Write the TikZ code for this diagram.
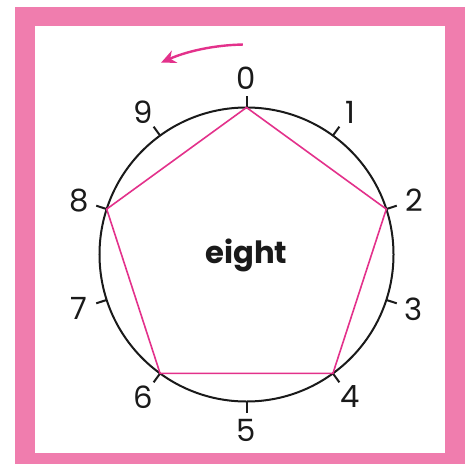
\documentclass[tikz,border=0pt]{standalone}
\usepackage{fontspec}
\setmainfont{Poppins}
\usepackage{xcolor}
\usetikzlibrary{
  arrows.meta,
  positioning,
  calc
}
\definecolor{clkFrame}{HTML}{F07DAE}
\definecolor{clkPink}{HTML}{E3318B}
\definecolor{clkInk}{HTML}{1A1A1A}
\tikzset{
  frame/.style={fill=clkFrame, draw=none},
  paper/.style={fill=white, draw=none},
  dial/.style={draw=clkInk, line width=1.5pt},
  ticker/.style={draw=clkInk, line width=1.5pt},
  digit/.style={font=\fontsize{23}{25}\selectfont, text=clkInk, inner sep=0pt},
  word/.style={font=\fontsize{23}{26}\selectfont\bfseries, text=clkInk, inner sep=0pt},
  polygon/.style={draw=clkPink, line width=1.2pt, line join=miter},
  turn/.style={-{Stealth[length=11pt, width=10pt]}, draw=clkPink, line width=1.8pt}
}
\begin{document}
\begin{tikzpicture}[x=0.75pt, y=0.75pt]
  \useasboundingbox (-246.5,-209.5) rectangle (226.5,254.5);
  % frame
  \path[frame] (-231.5,-209.5) rectangle (218.5,247.5);
  \path[paper] (-211.5,-198.5) rectangle (198.5,228.5);
  % dial
  \coordinate (c) at (0,0);
  \draw[dial] (c) circle[radius=147];
  \foreach \i in {0,...,9} {
    \coordinate (v\i) at ({90-36*\i}:147);
    \draw[ticker] (v\i) -- ({90-36*\i}:158);
    \node[digit] (n\i) at ({90-36*\i}:176) {\i};
  }
  % counting by eight
  \draw[polygon] (v0) -- (v8) -- (v6) -- (v4) -- (v2) -- cycle;
  \node[word] (lbl) at (0,-1) {eight};
  % direction
  \coordinate (a0) at (91:210);
  \draw[turn] (a0) arc[start angle=91, end angle=114, radius=210];
\end{tikzpicture}
\end{document}
